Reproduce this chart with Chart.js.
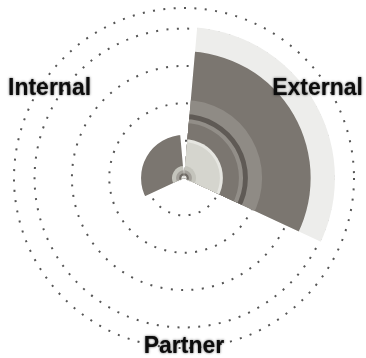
<!DOCTYPE html>
<html>
<head>
<meta charset="utf-8">
<script src="https://cdn.jsdelivr.net/npm/chart.js@4/dist/chart.umd.min.js"></script>
<style>
html,body{margin:0;padding:0;background:#fff;}
#wrap{width:366px;height:358px;position:relative;}
</style>
</head>
<body>
<div id="wrap"><canvas id="c" width="366" height="358"></canvas></div>
<script>
// ---- data ----
const categories = ['External', 'Partner', 'Internal'];
const tickValues = [0, 10, 20, 30, 40, 45.5];

const coreDot      = [0.7, 0, 0.7];
const coreRing     = [1.3, 0, 1.3];
const innerRing    = [2.1, 0, 2.1];
const centreRing   = [3.2, 0, 3.2];
const lightDisc    = [9.6, 0, 0];
const paleRing     = [10.4, 0, 0];
const darkBand     = [14.7, 0, 0];
const midStripe    = [15.8, 0, 0];
const darkStripe   = [17.1, 0, 0];
const midBand      = [20.9, 0, 0];
const mainBand     = [33.9, 0, 11.5];
const outerBand    = [40.4, 0, 0];

const gapDeg = 5;

// ---- plugins ----
const gapClip = {
  id: 'gapClip',
  beforeDatasetsDraw(chart) {
    const s = chart.scales.r, ctx = chart.ctx, n = categories.length;
    const pad = gapDeg * Math.PI / 180, R = s.drawingArea * 2;
    ctx.save();
    ctx.beginPath();
    for (let i = 0; i < n; i++) {
      const a0 = s.getIndexAngle(i) - Math.PI / 2;
      const a1 = a0 + 2 * Math.PI / n;
      ctx.moveTo(s.xCenter, s.yCenter);
      ctx.arc(s.xCenter, s.yCenter, R, a0 + pad, a1 - pad);
      ctx.closePath();
    }
    ctx.clip();
  },
  afterDatasetsDraw(chart) { chart.ctx.restore(); }
};

const sliceLabels = {
  id: 'sliceLabels',
  afterDraw(chart) {
    const s = chart.scales.r, ctx = chart.ctx, n = categories.length;
    ctx.save();
    ctx.font = 'bold 23px "Liberation Sans", Arial, sans-serif';
    ctx.fillStyle = '#0d0d0d';
    ctx.textAlign = 'center';
    ctx.textBaseline = 'middle';
    ctx.shadowColor = 'rgba(0,0,0,0.65)';
    ctx.shadowBlur = 2.5;
    categories.forEach((label, i) => {
      const p = s.getPointPosition(i, s.drawingArea + 8, Math.PI / n);
      const w = ctx.measureText(label).width, h = 16;
      const x = Math.min(Math.max(p.x, w / 2 + 8), chart.width - w / 2 - 3);
      const y = Math.min(Math.max(p.y, h / 2 + 2), chart.height - h / 2 - 3);
      ctx.fillText(label, x, y);
    });
    ctx.restore();
  }
};

const series = [
  {label: 'coreDot',    data: coreDot,    color: '#ececE8'},
  {label: 'coreRing',   data: coreRing,   color: '#6f6a65'},
  {label: 'innerRing',  data: innerRing,  color: '#a3a09a'},
  {label: 'centreRing', data: centreRing, color: '#c4c4bc'},
  {label: 'lightDisc',  data: lightDisc,  color: '#d5d5ce'},
  {label: 'paleRing',   data: paleRing,   color: '#e6e6e1'},
  {label: 'darkBand',   data: darkBand,   color: '#7b7670'},
  {label: 'midStripe',  data: midStripe,  color: '#928e88'},
  {label: 'darkStripe', data: darkStripe, color: '#5f5a55'},
  {label: 'midBand',    data: midBand,    color: '#8f8b85'},
  {label: 'mainBand',   data: mainBand,   color: '#7b7670'},
  {label: 'outerBand',  data: outerBand,  color: '#ededeb'}
];

new Chart(document.getElementById('c'), {
  type: 'polarArea',
  data: {
    labels: categories,
    datasets: series.map(s => ({
      label: s.label,
      data: s.data,
      backgroundColor: s.color,
      borderWidth: 0
    }))
  },
  options: {
    responsive: false,
    animation: false,
    layout: {padding: {left: 9, right: 7, top: 8, bottom: 10}},
    plugins: {legend: {display: false}, tooltip: {enabled: false}},
    scales: {
      r: {
        min: 0,
        max: 45.5,
        startAngle: 0,
        afterBuildTicks: (axis) => { axis.ticks = tickValues.map(v => ({value: v})); },
        ticks: {display: false},
        pointLabels: {display: false},
        angleLines: {display: false},
        grid: {circular: true, color: '#555555', lineWidth: 2},
        border: {dash: [2, 8.4]}
      }
    }
  },
  plugins: [gapClip, sliceLabels]
});
</script>
</body>
</html>
